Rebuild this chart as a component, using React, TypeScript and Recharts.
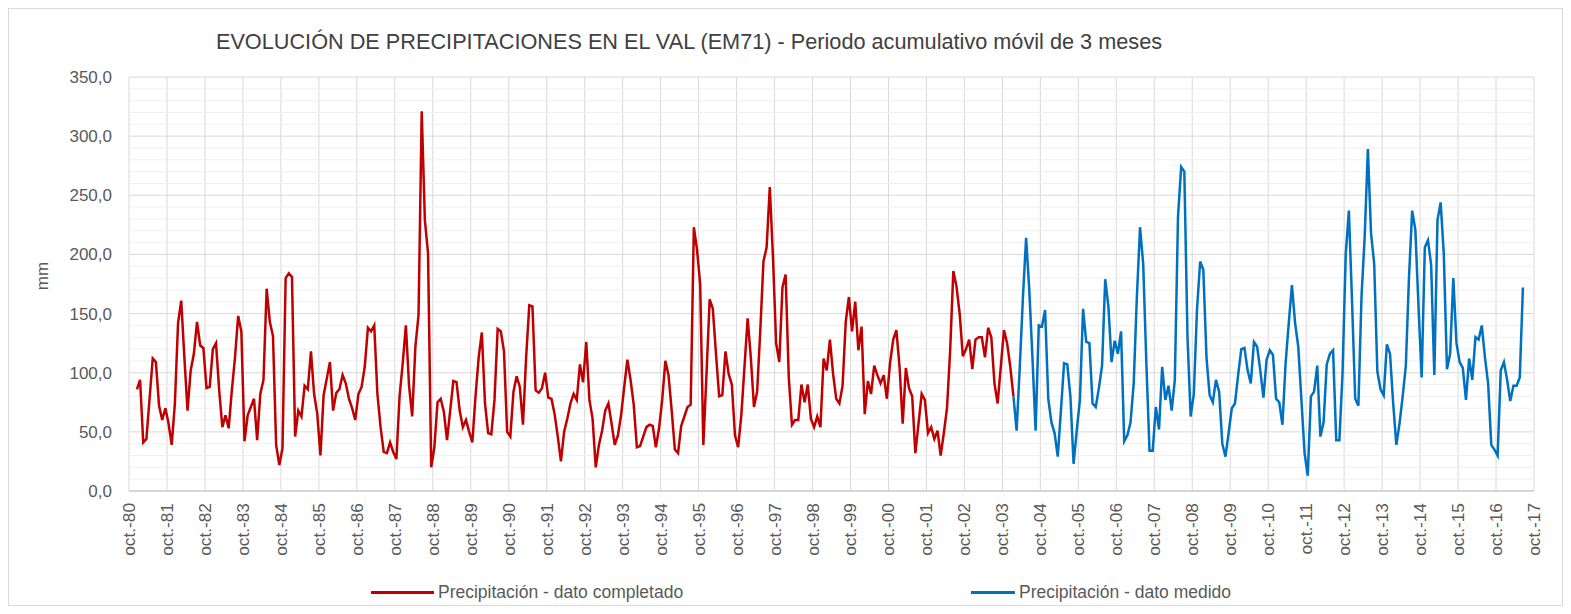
import React from 'react';
import { LineChart, Line, XAxis, YAxis, CartesianGrid, ReferenceLine } from 'recharts';

// meses contados desde oct.-80 (0 = oct.-80)
const INICIO_COMPLETADO = 2; // dic.-80
const completado = [
  86, 94, 41, 44, 78, 112, 109, 72, 60, 70, 57, 39, 74, 142, 161, 113, 68, 102, 116, 143, 123, 121, 87, 88, 120, 125, 85, 54, 64, 53, 85, 113, 148,
  135, 42, 64, 71, 78, 43, 82, 94, 171, 143, 131, 39, 22, 36, 180, 184, 181, 46, 68, 63, 89, 86, 118, 82, 65, 30, 81, 95, 109, 68, 83, 86, 98, 91, 78, 70, 60, 82,
  88, 105, 138, 135, 140, 82, 54, 33, 32, 41, 33, 27, 80, 108, 140, 89, 63, 122, 149, 321, 229, 201, 20, 37, 75, 78, 67, 43, 68, 93, 92, 68, 54, 60, 50, 41,
  80, 113, 134, 74, 49, 48, 77, 137, 135, 118, 50, 46, 84, 97, 88, 56, 113, 157, 156, 85, 83, 87, 100, 79, 78, 65, 46, 25, 50, 61, 74, 82, 77, 107, 92, 126,
  77, 61, 20, 39, 51, 68, 74, 57, 39, 47, 64, 88, 111, 94, 73, 37, 38, 46, 54, 56, 55, 37, 53, 77, 110, 98, 68, 35, 32, 55, 63, 71, 73, 223, 204, 175, 39,
  99, 162, 154, 116, 80, 81, 118, 99, 90, 47, 37, 64, 105, 146, 113, 71, 84, 136, 194, 206, 257, 198, 125, 109, 172, 183, 96, 56, 60, 60, 90, 75, 90, 61, 54, 63,
  54, 112, 102, 128, 99, 78, 74, 89, 143, 164, 135, 160, 119, 139, 65, 93, 82, 106, 98, 91, 98, 78, 108, 128, 136, 105, 57, 104, 87, 80, 32, 57, 82, 77, 49, 54,
  44, 51, 30, 49, 70, 119, 186, 173, 150, 114, 120, 128, 103, 128, 130, 130, 113, 138, 130, 91, 74, 105, 136, 125, 105, 80,
];

const INICIO_MEDIDO = 279; // ene.-04
const medido = [
  80, 51, 105, 164, 214, 170, 113, 51, 140, 139, 153,
  78, 58, 49, 29, 68, 108, 107, 80, 23, 51, 77, 154, 126, 125, 74, 71, 87, 106, 179, 156, 109, 127, 116, 135, 42, 47, 58, 91, 164, 223, 192, 108, 34, 34, 71, 52, 105,
  77, 89, 68, 94, 232, 274, 270, 130, 63, 82, 153, 194, 187, 113, 81, 75, 94, 84, 40, 29, 49, 70, 74, 98, 120, 121, 102, 91, 126, 122, 102, 79, 111, 119, 115, 78,
  75, 56, 108, 142, 174, 142, 122, 77, 32, 13, 80, 84, 106, 46, 58, 107, 116, 119, 43, 43, 100, 200, 237, 160, 78, 72, 165, 215, 289, 218, 192, 101, 86, 81, 124, 116, 74,
  39, 57, 80, 106, 181, 237, 221, 156, 96, 206, 212, 191, 98, 229, 244, 200, 103, 116, 180, 125, 109, 104, 77, 112, 94, 130, 128, 140, 113, 91, 39, 35, 30, 102, 109, 94, 76, 89, 89, 96, 172,
];

const etiquetasOct = [
  'oct.-80', 'oct.-81', 'oct.-82', 'oct.-83', 'oct.-84', 'oct.-85', 'oct.-86', 'oct.-87', 'oct.-88', 'oct.-89',
  'oct.-90', 'oct.-91', 'oct.-92', 'oct.-93', 'oct.-94', 'oct.-95', 'oct.-96', 'oct.-97', 'oct.-98', 'oct.-99',
  'oct.-00', 'oct.-01', 'oct.-02', 'oct.-03', 'oct.-04', 'oct.-05', 'oct.-06', 'oct.-07', 'oct.-08', 'oct.-09',
  'oct.-10', 'oct.-11', 'oct.-12', 'oct.-13', 'oct.-14', 'oct.-15', 'oct.-16', 'oct.-17',
];

const ticksY = [0, 50, 100, 150, 200, 250, 300, 350];

const ticksX = etiquetasOct.map((_, i) => i * 12);
const ultimoMes = INICIO_MEDIDO + medido.length;

// cada dato en el centro de su mes
const datos: { t: number; completado: number | null; medido: number | null }[] = [];
for (let m = INICIO_COMPLETADO; m < ultimoMes; m++) {
  const c = completado[m - INICIO_COMPLETADO];
  const d = medido[m - INICIO_MEDIDO];
  datos.push({ t: m + 0.5, completado: c ?? null, medido: d ?? null });
}

const menores: number[] = [];
for (let v = 10; v < 350; v += 10) if (v % 50 !== 0) menores.push(v);

const FUENTE = '"Liberation Sans", Arial, sans-serif';
const GRIS = '#595959';

const TickX = (props: any) => {
  const { x, y, payload } = props;
  const txt = etiquetasOct[Math.round(payload.value / 12)];
  return (
    <text
      x={x}
      y={y}
      transform={`rotate(-90 ${x} ${y})`}
      textAnchor="end"
      dominantBaseline="central"
      fill={GRIS}
      fontSize={17.3}
      fontFamily={FUENTE}
    >
      {txt}
    </text>
  );
};

export default function App() {
  return (
    <div style={{ position: 'relative', width: 1555, height: 598, fontFamily: FUENTE, border: '1px solid #d9d9d9', boxSizing: 'border-box' }}>
      <div style={{ position: 'absolute', left: 0, width: 1360, top: 20, textAlign: 'center', fontSize: 21.7, color: '#404040', whiteSpace: 'nowrap' }}>
        EVOLUCIÓN DE PRECIPITACIONES EN EL VAL (EM71) - Periodo acumulativo móvil de 3 meses
      </div>
      <div style={{ position: 'absolute', left: 34, top: 267, transform: 'translate(-50%, -50%) rotate(-90deg)', fontSize: 17, color: GRIS }}>
        mm
      </div>
      <LineChart width={1553} height={596} data={datos} margin={{ top: 68, right: 28, left: 60, bottom: 34 }}>
        {menores.map((v) => (
          <ReferenceLine key={v} y={v} stroke="#efefef" strokeWidth={1} ifOverflow="hidden" />
        ))}
        <CartesianGrid stroke="#d9d9d9" />
        <XAxis
          dataKey="t"
          type="number"
          domain={[0, 444]}
          ticks={ticksX}
          interval={0}
          tick={<TickX />}
          tickLine={false}
          axisLine={{ stroke: '#bfbfbf' }}
          height={80}
          tickMargin={6}
          allowDataOverflow
        />
        <YAxis
          domain={[0, 350]}
          ticks={ticksY}
          interval={0}
          tickFormatter={(v: number) => v.toFixed(1).replace('.', ',')}
          tick={{ fill: GRIS, fontSize: 17, fontFamily: FUENTE }}
          tickLine={false}
          axisLine={false}
          tickMargin={11}
          width={60}
        />
        <Line
          type="linear"
          dataKey="completado"
          stroke="#C00000"
          strokeWidth={2.5}
          dot={false}
          isAnimationActive={false}
        />
        <Line
          type="linear"
          dataKey="medido"
          stroke="#0070C0"
          strokeWidth={2.5}
          dot={false}
          isAnimationActive={false}
        />
      </LineChart>
      <div style={{ position: 'absolute', top: 573, left: 362, display: 'flex', alignItems: 'center', fontSize: 17.5, color: GRIS }}>
        <span style={{ display: 'inline-block', width: 63, height: 3, background: '#C00000', marginRight: 4 }} />
        Precipitación - dato completado
      </div>
      <div style={{ position: 'absolute', top: 573, left: 962, display: 'flex', alignItems: 'center', fontSize: 17.5, color: GRIS }}>
        <span style={{ display: 'inline-block', width: 44, height: 3, background: '#0070C0', marginRight: 4 }} />
        Precipitación - dato medido
      </div>
    </div>
  );
}
